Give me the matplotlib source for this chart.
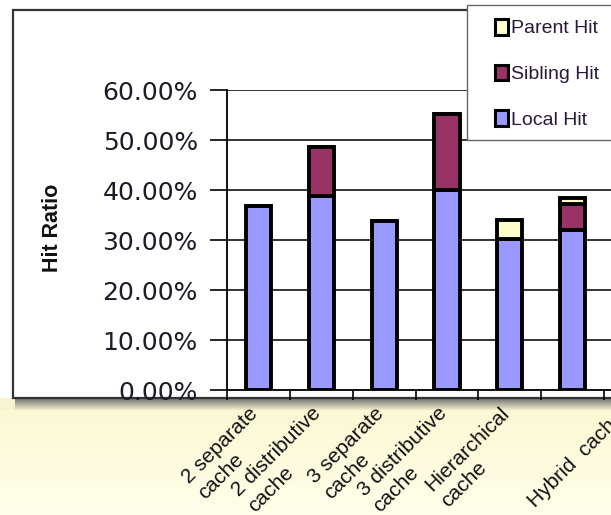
import numpy as np
import matplotlib
matplotlib.use('Agg')
import matplotlib.pyplot as plt
from matplotlib.patches import Rectangle, Patch
from matplotlib.ticker import FuncFormatter
import matplotlib.transforms as mtransforms

W, H = 611, 515

categorias = ['2 separate\ncache', '2 distributive\ncache', '3 separate\ncache',
              '3 distributive\ncache', 'Hierarchical\ncache', 'Hybrid  cache']
local_hit = [36.9, 38.9, 33.8, 40.1, 30.2, 32.0]
sibling_hit = [0.0, 9.7, 0.0, 15.2, 0.0, 5.3]
parent_hit = [0.0, 0.0, 0.0, 0.0, 3.9, 1.2]
ticks_y = [0, 10, 20, 30, 40, 50, 60]

COLOR_LOCAL = '#9999FF'
COLOR_SIBLING = '#993366'
COLOR_PARENT = '#FFFFCC'

plt.rcParams['font.family'] = ['Liberation Sans', 'DejaVu Sans']


def px_x(x):
    return x / W


def px_y(y):
    return 1 - y / H


fig = plt.figure(figsize=(W / 100, H / 100), dpi=100)
fig.patch.set_facecolor('white')

# fondo: sombra debajo del marco y degradado amarillo
fondo = fig.add_axes([0, 0, 1, 1], zorder=-10)
fondo.axis('off')
img = np.ones((H, W, 3))
for y in range(H):
    if 398 <= y < 410:
        t = (y - 398) / 12
        img[y, :] = np.array([0.45, 0.45, 0.45]) * (1 - t) + np.array([0.97, 0.96, 0.82]) * t
    elif y >= 410:
        t = (y - 410) / (H - 410)
        img[y, :] = np.array([0.985, 0.975, 0.83]) * (1 - t) + np.array([1.0, 1.0, 0.92]) * t
img[398:410, :15] = [0.97, 0.96, 0.82]
fondo.imshow(img, extent=[0, 1, 0, 1], aspect='auto', interpolation='bilinear')
fondo.set_xlim(0, 1)
fondo.set_ylim(0, 1)

# marco del grafico
marco = Rectangle((px_x(13), px_y(398)), 1.0, px_y(10) - px_y(398),
                  transform=fig.transFigure, facecolor='white',
                  edgecolor='#333333', linewidth=1.6, zorder=-5)
fig.add_artist(marco)

ax = fig.add_axes([px_x(227), px_y(390), 440 / W, 300 / H])
ax.set_facecolor('white')

x = np.arange(len(categorias))
ancho = 0.40
base2 = np.array(local_hit) + np.array(sibling_hit)
ax.bar(x, local_hit, ancho, color=COLOR_LOCAL, edgecolor='black', linewidth=2.8, zorder=3)
ax.bar(x, sibling_hit, ancho, bottom=local_hit, color=COLOR_SIBLING,
       edgecolor='black', linewidth=2.8, zorder=3)
ax.bar(x, parent_hit, ancho, bottom=base2, color=COLOR_PARENT,
       edgecolor='black', linewidth=2.8, zorder=3)

ax.set_xlim(-0.5, 6.5)
ax.set_ylim(0, 60)
ax.set_yticks(ticks_y)
ax.yaxis.set_major_formatter(FuncFormatter(lambda v, p: '{:.2f}%'.format(v)))
ax.grid(axis='y', color='#111111', linewidth=1.2, zorder=1)

ax.set_xticks(np.arange(-0.5, 7.0, 1.0))
ax.set_xticklabels([])
ax.set_xticks(x, minor=True)
ax.set_xticklabels(categorias, minor=True, rotation=45, ha='right', va='top',
                   rotation_mode='anchor', fontsize=15, multialignment='left',
                   color='#111111')
ax.tick_params(axis='x', which='minor', length=0, pad=10)
ax.tick_params(axis='x', which='major', length=7, width=1.2, direction='out')
ax.tick_params(axis='y', length=12, width=1.2, direction='out', pad=9,
               labelsize=18, labelcolor='#1c1c28')
for lbl in ax.get_yticklabels():
    lbl.set_family('DejaVu Sans')

# etiquetas del eje x algo corridas a la izquierda; "Hybrid cache" mas abajo
etiquetas = ax.xaxis.get_minorticklabels()
for i, lbl in enumerate(etiquetas):
    dx, dy = -10, 0
    if i == len(etiquetas) - 1:
        dx, dy = 42, -4
    lbl.set_transform(lbl.get_transform() +
                      mtransforms.ScaledTranslation(dx / 100, dy / 100, fig.dpi_scale_trans))

for lado in ['top', 'right']:
    ax.spines[lado].set_visible(False)
for lado in ['left', 'bottom']:
    ax.spines[lado].set_linewidth(1.4)
    ax.spines[lado].set_color('#111111')

ax.set_ylabel('Hit Ratio', fontsize=15.5, fontweight='bold', color='#111111')
ax.yaxis.set_label_coords(-0.372, 0.54)

# leyenda
caja = Rectangle((px_x(467), px_y(140)), 1.0, px_y(5) - px_y(140),
                 transform=fig.transFigure, facecolor='white',
                 edgecolor='#666666', linewidth=1.0, zorder=4.5)
fig.add_artist(caja)
manejadores = [Patch(facecolor=COLOR_PARENT, edgecolor='black', linewidth=2.2, label='Parent Hit'),
               Patch(facecolor=COLOR_SIBLING, edgecolor='black', linewidth=2.2, label='Sibling Hit'),
               Patch(facecolor=COLOR_LOCAL, edgecolor='black', linewidth=2.2, label='Local Hit')]
leg = fig.legend(handles=manejadores, loc='upper left',
                 bbox_to_anchor=(px_x(495), px_y(19)), frameon=False,
                 prop={'family': 'Liberation Sans', 'size': 14},
                 handlelength=0.65, handleheight=0.85, handletextpad=0.15,
                 labelspacing=1.4, borderaxespad=0, borderpad=0)
leg.set_zorder(6)
for t in leg.get_texts():
    t.set_color('#2a1a3a')

fig.savefig('out.png', dpi=100)
